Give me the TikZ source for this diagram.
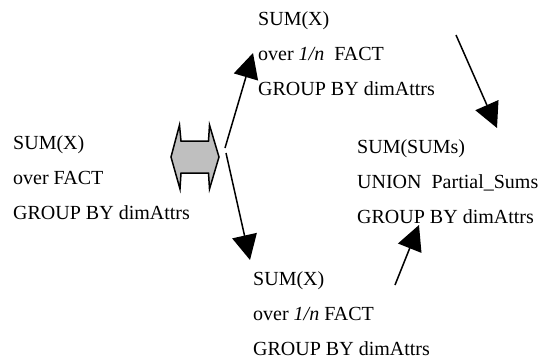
\documentclass[tikz,border=0pt]{standalone}
\usepackage{fontspec}
\setmainfont{Liberation Serif}
\usetikzlibrary{arrows.meta}

\tikzset{
  txt/.style={anchor=base west, inner sep=0pt, font=\fontsize{20}{24}\selectfont},
  flow/.style={line width=1.5pt, -{Triangle[length=25pt,width=25pt]}},
  splitter/.style={line width=1.5pt, fill=black!25, draw=black, line join=miter}
}

\begin{document}
\begin{tikzpicture}[x=1pt, y=-1pt]
  \useasboundingbox (0,0) rectangle (552,364);

  % whole-table aggregate
  \node[txt] (a1) at (13,149) {SUM(X)};
  \node[txt] (a2) at (13,184) {over FACT};
  \node[txt] (a3) at (13,219) {GROUP BY dimAttrs};

  % first partition
  \node[txt] (b1) at (258,25) {SUM(X)};
  \node[txt] (b2) at (258,60) {over \textit{1/n}\ \ FACT};
  \node[txt] (b3) at (258,95) {GROUP BY dimAttrs};

  % merge of partial sums
  \node[txt] (c1) at (357,153) {SUM(SUMs)};
  \node[txt] (c2) at (357,188) {UNION\ \ Partial\_Sums};
  \node[txt] (c3) at (357,223) {GROUP BY dimAttrs};

  % second partition
  \node[txt] (d1) at (253,285) {SUM(X)};
  \node[txt] (d2) at (253,320) {over \textit{1/n} FACT};
  \node[txt] (d3) at (253,355) {GROUP BY dimAttrs};

  % equivalence symbol
  \draw[splitter] (179.5,125) -- (181,141) -- (208.5,141) -- (209.5,125)
    -- (219,157) -- (209.5,189) -- (208.5,173) -- (181,173) -- (180,189)
    -- (171,157) -- cycle;

  % connector end points
  \coordinate (s1) at (225,148);
  \coordinate (t1) at (253,53);
  \coordinate (s2) at (226,153);
  \coordinate (t2) at (250,260);
  \coordinate (s3) at (456,35);
  \coordinate (t3) at (497,128);
  \coordinate (s4) at (395,285);
  \coordinate (t4) at (419,225);

  \draw[flow] (s1) -- (t1);
  \draw[flow] (s2) -- (t2);
  \draw[flow] (s3) -- (t3);
  \draw[flow] (s4) -- (t4);
\end{tikzpicture}
\end{document}
